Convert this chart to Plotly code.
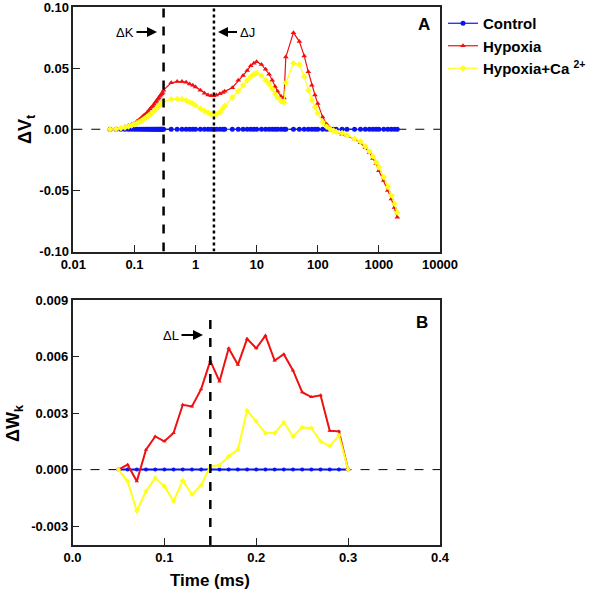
import plotly.graph_objects as go

# ---------------- Panel A data (time in ms, log axis) ----------------
t_a = [0.04, 0.05, 0.06, 0.07, 0.08, 0.09, 0.10, 0.11, 0.12, 0.13, 0.14, 0.15,
       0.16, 0.17, 0.18, 0.19, 0.20, 0.21, 0.22, 0.23, 0.24, 0.25, 0.26, 0.27,
       0.28, 0.29, 0.30,
       0.4, 0.5, 0.6, 0.7, 0.8, 0.9, 1.0, 1.2, 1.4, 1.6, 1.8, 2.0, 2.2, 2.5, 2.8, 3.0,
       4, 5, 6, 7, 8, 9, 10, 12, 14, 16, 18, 20, 22, 25, 28, 30,
       40, 50, 60, 70, 80, 90, 100, 120, 140, 160, 180, 200, 250, 300,
       400, 500, 600, 700, 800, 900, 1000, 1200, 1400, 1600, 1800, 2000]

control_a = [0.0] * len(t_a)

hypoxia_a = [0.0, 0.0005, 0.001, 0.002, 0.003, 0.004, 0.005, 0.0065, 0.008, 0.0095,
             0.011, 0.012, 0.0135, 0.015, 0.0165, 0.018, 0.019, 0.0205, 0.022, 0.023,
             0.0245, 0.0255, 0.027, 0.028, 0.029, 0.030, 0.032,
             0.038, 0.039, 0.039, 0.0385, 0.037, 0.036, 0.0345, 0.032, 0.0295, 0.028,
             0.0275, 0.0275, 0.028, 0.029, 0.030, 0.031,
             0.034, 0.040, 0.044, 0.048, 0.052, 0.054, 0.0553, 0.053, 0.049, 0.045,
             0.040, 0.035, 0.031, 0.027, 0.0255, 0.059,
             0.079, 0.0717, 0.060, 0.047, 0.036, 0.028, 0.021, 0.010, 0.004, 0.001,
             -0.001, -0.002, -0.004, -0.005,
             -0.008, -0.011, -0.015, -0.019, -0.024, -0.028, -0.034, -0.042, -0.050,
             -0.057, -0.064, -0.072]

hypoxia_ca_a = [0.0, 0.0003, 0.0008, 0.0015, 0.0022, 0.003, 0.004, 0.005, 0.006, 0.007,
                0.008, 0.009, 0.010, 0.011, 0.012, 0.013, 0.014, 0.015, 0.016, 0.017,
                0.018, 0.019, 0.020, 0.0205, 0.021, 0.022, 0.0226,
                0.0245, 0.0248, 0.0245, 0.0235, 0.022, 0.021, 0.0195, 0.017, 0.015,
                0.0135, 0.0125, 0.012, 0.0125, 0.014, 0.017, 0.019,
                0.026, 0.031, 0.036, 0.040, 0.043, 0.045, 0.046, 0.044, 0.040, 0.037,
                0.033, 0.029, 0.026, 0.023, 0.022, 0.038,
                0.054, 0.053, 0.043, 0.032, 0.024, 0.018, 0.013, 0.006, 0.002, 0.0,
                -0.001, -0.002, -0.003, -0.005,
                -0.008, -0.010, -0.014, -0.018, -0.022, -0.027, -0.031, -0.039, -0.047,
                -0.054, -0.061, -0.068]

# ---------------- Panel B data ----------------
t_b = [0.05, 0.06, 0.07, 0.08, 0.09, 0.10, 0.11, 0.12, 0.13, 0.14, 0.15, 0.16, 0.17,
       0.18, 0.19, 0.20, 0.21, 0.22, 0.23, 0.24, 0.25, 0.26, 0.27, 0.28, 0.29, 0.30]

control_b = [0.0] * len(t_b)

hypoxia_b = [0.0, 0.00026, -0.00062, 0.00106, 0.00176, 0.00150, 0.00194, 0.00344,
             0.00335, 0.00427, 0.00577, 0.00468, 0.00644, 0.00556, 0.00694, 0.00644,
             0.00711, 0.00579, 0.00612, 0.00526, 0.00411, 0.00385, 0.00394, 0.00206,
             0.00203, 0.0]

hypoxia_ca_b = [0.0, -0.00062, -0.0022, -0.00115, -0.00044, -0.00088, -0.00168,
                -0.00058, -0.00132, -0.00083, 0.00018, 0.00023, 0.00071, 0.00106,
                0.00314, 0.00256, 0.00194, 0.00194, 0.00251, 0.00176, 0.00224,
                0.0022, 0.0015, 0.00124, 0.00182, 0.0]

# tick labels
a_xticks = [0.01, 0.1, 1, 10, 100, 1000, 10000]
a_xticktext = ["0.01", "0.1", "1", "10", "100", "1000", "10000"]
a_yticks = [-0.10, -0.05, 0.0, 0.05, 0.10]
a_yticktext = ["-0.10", "-0.05", "0.00", "0.05", "0.10"]
b_xticks = [0.0, 0.1, 0.2, 0.3, 0.4]
b_xticktext = ["0.0", "0.1", "0.2", "0.3", "0.4"]
b_yticks = [-0.003, 0.0, 0.003, 0.006, 0.009]
b_yticktext = ["-0.003", "0.000", "0.003", "0.006", "0.009"]

names = ["Control", "Hypoxia", "Hypoxia+Ca <sup>2+</sup>"]
colors = ["#0a14f0", "#f01010", "#ffff1a"]
symbols = ["circle", "triangle-up", "diamond"]

W, H = 596, 595


def px(x):
    return x / W


def py(y):
    return 1 - y / H


fig = go.Figure()

for name, vals, col, sym in zip(names, [control_a, hypoxia_a, hypoxia_ca_a], colors, symbols):
    fig.add_trace(go.Scatter(x=t_a, y=vals, name=name, mode="lines+markers",
                             line=dict(color=col, width=1.2),
                             marker=dict(color=col, symbol=sym, size=5),
                             xaxis="x", yaxis="y"))

for name, vals, col, sym in zip(names, [control_b, hypoxia_b, hypoxia_ca_b], colors, symbols):
    fig.add_trace(go.Scatter(x=t_b, y=vals, name=name, mode="lines+markers",
                             line=dict(color=col, width=2),
                             marker=dict(color=col, symbol=sym, size=4),
                             xaxis="x2", yaxis="y2", showlegend=False))

tickfont = dict(family="Liberation Sans, Arial", size=13, color="black", weight="bold")
axis_common = dict(showline=True, linecolor="#222", linewidth=1.5, mirror=True,
                   ticks="inside", ticklen=7, tickwidth=1.2, tickcolor="#222",
                   showgrid=False, zeroline=False, tickfont=tickfont, automargin=False,
                   ticklabeloverflow="allow")

fig.update_layout(
    width=W, height=H, margin=dict(l=0, r=0, t=0, b=0, autoexpand=False),
    paper_bgcolor="white", plot_bgcolor="white",
    xaxis=dict(type="log", range=[-2, 4], tickvals=a_xticks, ticktext=a_xticktext,
               domain=[px(73.3), px(440)], anchor="y", **axis_common),
    yaxis=dict(range=[-0.1, 0.1], tickvals=a_yticks, ticktext=a_yticktext,
               domain=[py(251.5), py(7)], anchor="x", **axis_common),
    xaxis2=dict(range=[0, 0.4], tickvals=b_xticks, ticktext=b_xticktext,
                domain=[px(72.5), px(440)], anchor="y2", **axis_common),
    yaxis2=dict(range=[-0.004, 0.009], tickvals=b_yticks, ticktext=b_yticktext,
                domain=[py(545), py(300)], anchor="x2", **axis_common),
    legend=dict(x=px(443), y=py(7), xanchor="left", yanchor="top",
                font=dict(family="Liberation Sans, Arial", size=15, color="black", weight="bold"),
                itemwidth=30, bgcolor="rgba(0,0,0,0)", tracegroupgap=0),
)

# zero reference lines
fig.add_shape(type="line", xref="x domain", yref="y", x0=0, x1=1, y0=0, y1=0,
              line=dict(color="black", width=1, dash="dash"), layer="below")
fig.add_shape(type="line", xref="x2 domain", yref="y2", x0=0, x1=1, y0=0, y1=0,
              line=dict(color="black", width=1, dash="dash"), layer="below")

# vertical markers
fig.add_shape(type="line", xref="x", yref="y", x0=0.3, x1=0.3, y0=-0.1, y1=0.1,
              line=dict(color="black", width=2.5, dash="dash"), layer="above")
fig.add_shape(type="line", xref="x", yref="y", x0=2, x1=2, y0=-0.1, y1=0.1,
              line=dict(color="black", width=2.5, dash="dot"), layer="above")
fig.add_shape(type="line", xref="x2", yref="y2", x0=0.15, x1=0.15, y0=-0.004, y1=0.0082,
              line=dict(color="black", width=2.5, dash="dash"), layer="above")

lab = dict(family="Liberation Sans, Arial", color="black")
ann = []
# labelled arrows: head position, text offset in pixels
for txt, hx, hy, dx in [("ΔK", 157, 32, -32), ("ΔJ", 218, 32, 29), ("ΔL", 203, 335, -32)]:
    ann.append(dict(text=txt, x=px(hx), y=py(hy), xref="paper", yref="paper",
                    showarrow=True, ax=dx, ay=0, arrowhead=2, arrowsize=1,
                    arrowwidth=2, arrowcolor="black", standoff=0, startstandoff=1,
                    font=dict(size=13, **lab)))


def label(text, x, y, size, angle=0):
    ann.append(dict(text=text, x=px(x), y=py(y), xref="paper", yref="paper",
                    xanchor="center", yanchor="middle", showarrow=False,
                    textangle=angle, font=dict(size=size, weight="bold", **lab)))


label("A", 424, 25, 17)
label("B", 422, 322, 17)
label("ΔV<sub>t</sub>", 26, 129, 18, -90)
label("ΔW<sub>k</sub>", 14, 423, 18, -90)
label("Time (ms)", 210, 580, 17)
fig.update_layout(annotations=ann)

fig.write_html("out.html", config={"displayModeBar": False},
               post_script="document.body.style.margin='0';document.body.style.overflow='hidden';")
